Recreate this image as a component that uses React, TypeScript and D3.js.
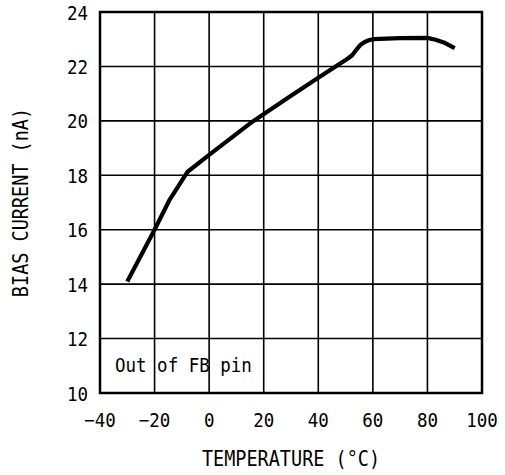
import React from "react";
import * as d3 from "d3";

const temps = [-30, -20, -14.5, -8, 0, 16, 30, 40, 51, 52.5, 54, 55.5, 57, 58.5, 60, 70, 80, 83, 86, 90];
const bias = [14.1, 16.0, 17.1, 18.12, 18.75, 19.98, 20.92, 21.58, 22.3, 22.42, 22.62, 22.8, 22.9, 22.96, 23.0, 23.04, 23.05, 22.98, 22.88, 22.67];
const xTicks = [-40, -20, 0, 20, 40, 60, 80, 100];
const yTicks = [10, 12, 14, 16, 18, 20, 22, 24];
const xTitle = "TEMPERATURE (°C)";
const yTitle = "BIAS CURRENT (nA)";
const note = "Out of FB pin";

const W = 505, H = 475;
const L = 100, R = 482, T = 12, B = 393;
const font = "'DejaVu Sans Mono', monospace";
const SY = 1.14;

function Txt({ x, y, anchor, size, rotate, children }: any) {
  const tr = `translate(${x},${y})${rotate ? ` rotate(${rotate})` : ""} scale(1,${SY})`;
  return (
    <text transform={tr} textAnchor={anchor || "start"} fontFamily={font} fontSize={size} fill="#000">{children}</text>
  );
}

export default function App() {
  const x = d3.scaleLinear().domain([-40, 100]).range([L, R]);
  const y = d3.scaleLinear().domain([10, 24]).range([B, T]);
  const pts: [number, number][] = temps.map((t, i) => [t, bias[i]]);
  const line = d3.line<[number, number]>().x(d => x(d[0])).y(d => y(d[1])).curve(d3.curveLinear);
  return (
    <svg width={W} height={H} style={{ position: "fixed", left: 0, top: 0, background: "#fff" }}>
      <rect x={0} y={0} width={W} height={H} fill="#fff" />
      {xTicks.map(t => (
        <line key={"gx" + t} x1={x(t)} x2={x(t)} y1={T} y2={B} stroke="#000" strokeWidth={1.6} />
      ))}
      {yTicks.map(t => (
        <line key={"gy" + t} x1={L} x2={R} y1={y(t)} y2={y(t)} stroke="#000" strokeWidth={1.6} />
      ))}
      <rect x={L} y={T} width={R - L} height={B - T} fill="none" stroke="#000" strokeWidth={2.5} />
      <path d={line(pts) || ""} fill="none" stroke="#000" strokeWidth={4.2} strokeLinejoin="round" />
      {yTicks.map(t => (
        <Txt key={"ly" + t} x={88} y={y(t) + 7.5} anchor="end" size={17.5}>{t}</Txt>
      ))}
      {xTicks.map(t => (
        <Txt key={"lx" + t} x={x(t)} y={427} anchor="middle" size={17.5}>{t < 0 ? "−" + Math.abs(t) : t}</Txt>
      ))}
      <Txt x={115} y={372} size={17.5}>{note}</Txt>
      <Txt x={(L + R) / 2} y={466} anchor="middle" size={18.5}>{xTitle}</Txt>
      <Txt x={28} y={(T + B) / 2} anchor="middle" size={18.5} rotate={-90}>{yTitle}</Txt>
    </svg>
  );
}
